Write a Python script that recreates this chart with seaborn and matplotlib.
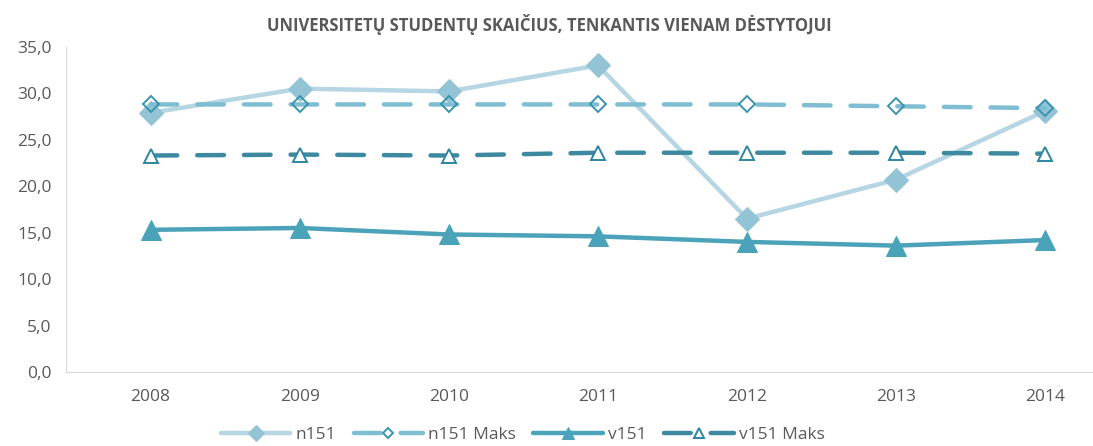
import pandas as pd
import matplotlib.pyplot as plt
import seaborn as sns
import numpy as np

years = ["2008", "2009", "2010", "2011", "2012", "2013", "2014"]
n151 = [27.9, 30.5, 30.2, 33.0, 16.5, 20.7, 28.1]
n151_maks = [28.8, 28.8, 28.8, 28.8, 28.8, 28.6, 28.4]
v151 = [15.3, 15.5, 14.8, 14.6, 14.0, 13.6, 14.2]
v151_maks = [23.3, 23.4, 23.3, 23.6, 23.6, 23.6, 23.5]

sns.set_style("white")
plt.rcParams['font.family'] = ['Open Sans', 'DejaVu Sans']

fig = plt.figure(figsize=(10.93, 4.46), dpi=100)
ax = fig.add_axes([0.060, 0.166, 0.94, 0.729])

x = np.arange(len(years))

#Lines
sns.lineplot(x=x, y=n151, ax=ax, color="#B5D6E2", linewidth=3.2,
             marker="D", markersize=12, markerfacecolor="#93C4D5",
             markeredgecolor="#93C4D5", label="n151")
sns.lineplot(x=x, y=n151_maks, ax=ax, color="#7FBDD2", linewidth=3.2,
             marker="D", markersize=8, markerfacecolor="none",
             markeredgecolor="#3A93AD", markeredgewidth=1.4, label="n151 Maks")
ax.lines[-1].set_dashes([6, 4.5])
ax.lines[-1].set_dash_capstyle("round")
sns.lineplot(x=x, y=v151, ax=ax, color="#4BA3BA", linewidth=3.2,
             marker="^", markersize=14, markerfacecolor="#4BA3BA",
             markeredgecolor="#4BA3BA", label="v151")
sns.lineplot(x=x, y=v151_maks, ax=ax, color="#3D8AA0", linewidth=3.2,
             marker="^", markersize=10, markerfacecolor="white",
             markeredgecolor="#2E86A0", markeredgewidth=1.4, label="v151 Maks")
ax.lines[-1].set_dashes([6, 4.5])
ax.lines[-1].set_dash_capstyle("round")

ax.set_xlim(-0.57, 6.32)
ax.set_ylim(0, 35)
ax.set_yticks(np.arange(0, 36, 5))
ax.set_yticklabels([f"{v:.1f}".replace(".", ",") for v in np.arange(0, 36, 5)])
ax.set_xticks(x)
ax.set_xticklabels(years)
ax.tick_params(axis="both", length=0, labelsize=12.5, labelcolor="#595959")
ax.tick_params(axis="x", pad=12)
ax.tick_params(axis="y", pad=10)

for s in ["top", "right"]:
    ax.spines[s].set_visible(False)
ax.spines["left"].set_color("#D9D9D9")
ax.spines["bottom"].set_color("#D9D9D9")

fig.text(0.503, 0.945, "UNIVERSITETŲ STUDENTŲ SKAIČIUS, TENKANTIS VIENAM DĖSTYTOJUI",
         ha="center", va="center", fontsize=12, fontweight="bold", color="#595959")

ax.legend(loc="center", bbox_to_anchor=(0.445, -0.195), ncol=4, frameon=False,
          fontsize=12.5, labelcolor="#595959", handlelength=4, columnspacing=1.0,
          handletextpad=0.3, markerscale=0.65)

plt.savefig("out.png", dpi=100)
